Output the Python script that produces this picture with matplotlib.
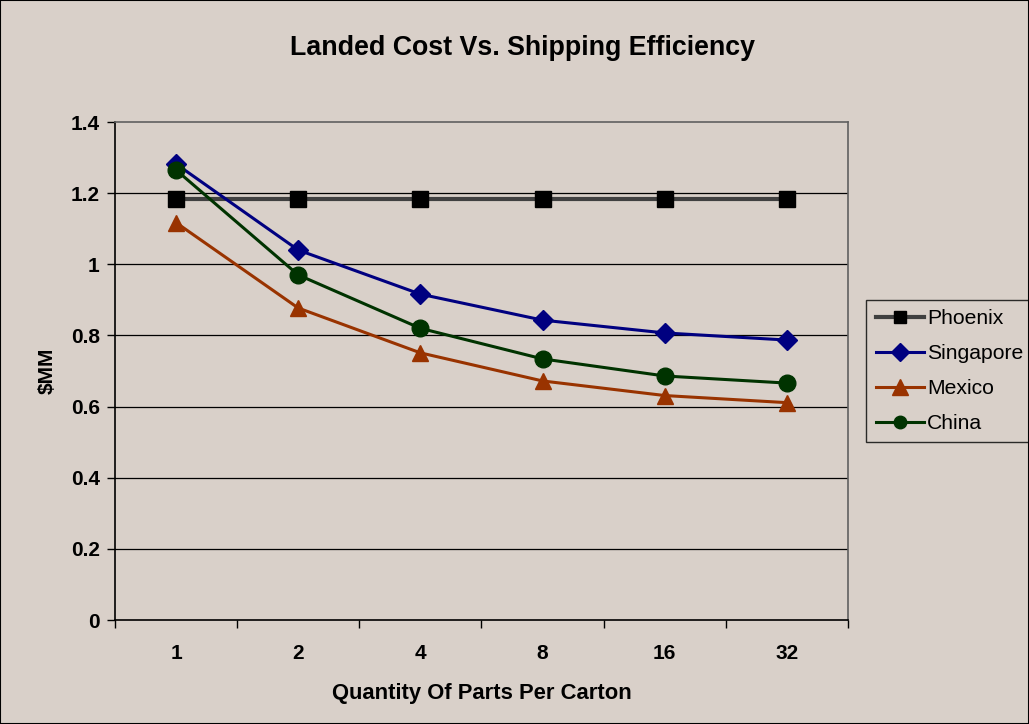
import matplotlib
matplotlib.use("Agg")
import matplotlib.pyplot as plt
from matplotlib.patches import Rectangle

categories = ["1", "2", "4", "8", "16", "32"]
phoenix = [1.183, 1.183, 1.183, 1.183, 1.183, 1.183]
singapore = [1.282, 1.040, 0.916, 0.843, 0.807, 0.787]
mexico = [1.117, 0.877, 0.751, 0.672, 0.631, 0.611]
china = [1.265, 0.970, 0.820, 0.734, 0.686, 0.666]
yticks = [0, 0.2, 0.4, 0.6, 0.8, 1, 1.2, 1.4]
ytick_labels = ["0", "0.2", "0.4", "0.6", "0.8", "1", "1.2", "1.4"]

bg = "#d9d0c9"
plt.rcParams['font.family'] = ['Liberation Sans', 'DejaVu Sans']

fig = plt.figure(figsize=(10.29, 7.24), dpi=100, facecolor=bg)
ax = fig.add_axes([115/1029, 1 - 620/724, (848-115)/1029, (620-122)/724])
ax.set_facecolor(bg)

x = list(range(len(categories)))
ax.plot(x, phoenix, color="#404040", lw=3, marker="s", ms=11, mfc="black", mec="black", label="Phoenix", zorder=3)
ax.plot(x, singapore, color="#000080", lw=2.2, marker="D", ms=10, mfc="#000080", mec="#000080", label="Singapore", zorder=4)
ax.plot(x, mexico, color="#993300", lw=2.2, marker="^", ms=12, mfc="#993300", mec="#993300", label="Mexico", zorder=4)
ax.plot(x, china, color="#003300", lw=2.2, marker="o", ms=12, mfc="#003300", mec="#003300", label="China", zorder=5)

ax.set_xlim(-0.5, len(categories) - 0.5)
ax.set_ylim(0, 1.4)
ax.set_yticks(yticks)
ax.set_yticklabels(ytick_labels, fontsize=15, fontweight="bold")
ax.set_xticks([i - 0.5 for i in range(len(categories) + 1)])
ax.set_xticklabels([])
ax.set_xticks(x, minor=True)
ax.set_xticklabels(categories, minor=True, fontsize=15, fontweight="bold")
ax.tick_params(axis="x", which="minor", length=0, pad=17)
ax.tick_params(axis="x", which="major", length=6, width=1, direction="out", color="black")
ax.tick_params(axis="y", length=6, width=1, direction="out", color="black", pad=5)

for yv in yticks[1:-1]:
    ax.axhline(yv, color="black", lw=0.9, zorder=1)

ax.spines["left"].set_color("black")
ax.spines["bottom"].set_color("black")
ax.spines["left"].set_linewidth(1.2)
ax.spines["bottom"].set_linewidth(1.2)
ax.spines["top"].set_color("#606060")
ax.spines["right"].set_color("#606060")
ax.spines["top"].set_linewidth(1.2)
ax.spines["right"].set_linewidth(1.2)

ax.set_ylabel("$MM", fontsize=15, fontweight="bold", labelpad=10)
ax.set_xlabel("Quantity Of Parts Per Carton", fontsize=15.8, fontweight="bold", labelpad=15)
fig.text(522/1029, 1 - 48/724, "Landed Cost Vs. Shipping Efficiency", ha="center", va="center",
         fontsize=19.3, fontweight="bold")

leg = ax.legend(loc="upper left", bbox_to_anchor=(866/1029, 1 - 300/724), bbox_transform=fig.transFigure,
                frameon=True, fancybox=False, fontsize=15.2, borderpad=0.45, labelspacing=0.75,
                handlelength=2.3, handletextpad=0.15, borderaxespad=0)
leg.get_frame().set_facecolor(bg)
leg.get_frame().set_edgecolor("black")
leg.get_frame().set_linewidth(1)
for h in leg.legend_handles:
    h.set_markersize(9)
leg.legend_handles[2].set_markersize(11)

fig.patches.append(Rectangle((0, 0), 1, 1, transform=fig.transFigure, fill=False, edgecolor="black", lw=1.5))

fig.savefig("out.png", dpi=100, facecolor=bg)
